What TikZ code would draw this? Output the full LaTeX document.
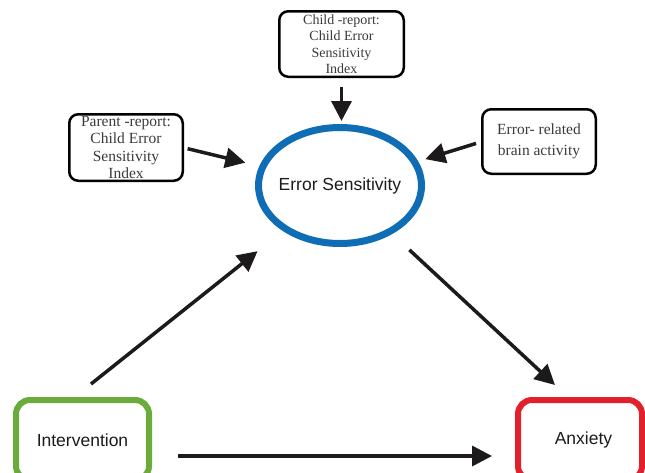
\documentclass[tikz,border=0pt]{standalone}
\usepackage{fontspec}
\setmainfont{Liberation Serif}
\setsansfont{Liberation Sans}
\usetikzlibrary{shapes.geometric,arrows.meta}

\definecolor{esblue}{HTML}{0F6DB5}
\definecolor{ivgreen}{HTML}{6AAB3A}
\definecolor{axred}{HTML}{E2202B}
\definecolor{textgray}{HTML}{3A3A3A}
\definecolor{arrowblack}{HTML}{1C1A1B}

\tikzset{
    report/.style={draw, line width=2.5pt, rounded corners=9pt, align=center,
        text=textgray, inner sep=0pt, outer sep=0pt,
        font=\fontsize{15.5}{17.5}\selectfont},
    outcome/.style={draw, line width=6pt, rounded corners=14pt, inner sep=0pt,
        outer sep=0pt, minimum width=130pt, minimum height=80pt,
        text=arrowblack, font=\sffamily\fontsize{17.5}{20}\selectfont},
    arr/.style={->, line width=3.5pt, draw=arrowblack}
}

\begin{document}
\begin{tikzpicture}[x=1pt, y=-1pt, >={Triangle[length=20pt,width=20pt]}]

        \useasboundingbox (0,0) rectangle (645,472);
        \clip (0,0) rectangle (645,472);

        % Mediator
        \node[ellipse, draw=esblue, line width=7pt, outer sep=0pt,
              minimum width=163pt, minimum height=116pt] at (340,185.5) (es) {};
        \node[text=arrowblack, font=\sffamily\fontsize{17.5}{20}\selectfont]
              at (es.center) (estext) {Error Sensitivity};

        % Messungen
        \node[report, minimum width=124.5pt, minimum height=65.5pt,
              font=\fontsize{14}{16.5}\selectfont] at (341.5,44) (child)
              {Child -report:\\Child Error\\Sensitivity\\Index};
        \node[report, minimum width=113.5pt, minimum height=66.5pt] at (126,147.5) (parent)
              {Parent -report:\\Child Error\\Sensitivity\\Index};
        \node[report, minimum width=113.5pt, minimum height=64.5pt,
              font=\fontsize{15.5}{21}\selectfont] at (539,141.5) (erp)
              {Error- related\\brain activity};

        % Untere Zeile
        \node[outcome, draw=ivgreen, minimum width=133pt] at (82.5,440) (iv) {Intervention};
        \node[outcome, draw=axred, minimum width=124pt] at (580,440) (ax)
              {\hspace{7pt}Anxiety};

        % Pfeile zu Error Sensitivity
        \draw[arr, shorten <=10pt, shorten >=6.5pt] (child.south) -- (child.south |- es.north);
        \draw[arr, shorten <=5pt, shorten >=18pt] (parent.east) -- (es);
        \draw[arr, shorten <=6.5pt, shorten >=11pt] (erp.west) -- (es);

        % Pfade
        \draw[arr, shorten >=36pt] ([xshift=8.5pt,yshift=16pt]iv.north) -- (es);
        \draw[arr, shorten <=27pt] (es) -- ([xshift=-25pt,yshift=15pt]ax.north);
        \draw[arr, shorten <=29pt, shorten >=26pt] ([yshift=-16pt]iv.east) -- ([yshift=-16pt]ax.west);

    \end{tikzpicture}
\end{document}
